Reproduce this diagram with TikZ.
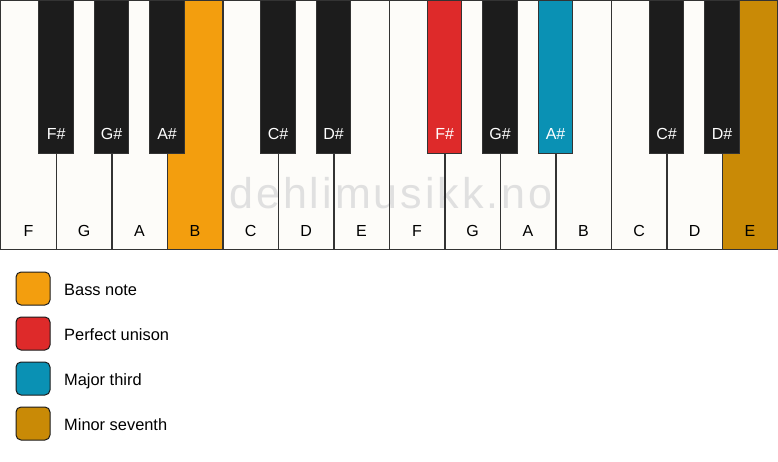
\documentclass[tikz,border=0pt]{standalone}
\usepackage{fontspec}
\setmainfont{Liberation Sans}
\definecolor{keywhite}{HTML}{FDFCF9}
\definecolor{keyblack}{HTML}{1C1C1C}
\definecolor{keyline}{HTML}{333333}
\definecolor{bassorange}{HTML}{F39E0E}
\definecolor{unisonred}{HTML}{DE2A2A}
\definecolor{thirdblue}{HTML}{0A91B4}
\definecolor{seventhgold}{HTML}{C98A06}
\definecolor{wmgray}{HTML}{E0E0E0}
\begin{document}
\begin{tikzpicture}[x=1pt,y=-1pt,
  whitekey/.style={rectangle,inner sep=0pt,anchor=north west,minimum width=55.5pt,minimum height=249pt,fill=keywhite},
  keyborder/.style={draw=keyline,line width=1.2pt},
  blackkey/.style={rectangle,inner sep=0pt,anchor=north,minimum width=34.5pt,minimum height=153pt,draw=keyline,line width=0.8pt,fill=keyblack},
  wlabel/.style={anchor=base,inner sep=0pt,font=\fontsize{16}{18}\selectfont,text=black},
  blabel/.style={anchor=base,inner sep=0pt,font=\fontsize{16}{18}\selectfont,text=white},
  legbox/.style={rectangle,rounded corners=5pt,inner sep=0pt,minimum width=34pt,minimum height=33pt,draw=keyblack,line width=1pt},
  legtext/.style={anchor=base west,inner sep=0pt,font=\fontsize{16.4}{19}\selectfont}]
\useasboundingbox (0,0) rectangle (778,461);
\fill[white] (0,0) rectangle (778,461);
% white keys
\foreach \i/\n/\c in {0/F/keywhite,1/G/keywhite,2/A/keywhite,3/B/bassorange,4/C/keywhite,5/D/keywhite,6/E/keywhite,7/F/keywhite,8/G/keywhite,9/A/keywhite,10/B/keywhite,11/C/keywhite,12/D/keywhite,13/E/seventhgold}{
  \node[whitekey,fill=\c] (w\i) at ({0.6+\i*55.5}, 0) {};
}
% watermark
\node[anchor=base,inner sep=0pt,text=wmgray,font=\fontsize{43}{50}\selectfont\addfontfeature{LetterSpace=7}] (wm) at (391,208) {dehlimusikk.no};
% key borders and labels
\foreach \i/\n in {0/F,1/G,2/A,3/B,4/C,5/D,6/E,7/F,8/G,9/A,10/B,11/C,12/D,13/E}{
  \draw[keyborder] (w\i.north west) rectangle (w\i.south east);
  \node[wlabel] (wl\i) at (w\i.center |- 0,236) {\n};
}
% black keys
\foreach \i/\n/\c in {1/F\#/keyblack,2/G\#/keyblack,3/A\#/keyblack,5/C\#/keyblack,6/D\#/keyblack,8/F\#/unisonred,9/G\#/keyblack,10/A\#/thirdblue,12/C\#/keyblack,13/D\#/keyblack}{
  \node[blackkey,fill=\c] (b\i) at (w\i.north west) {};
  \node[blabel] (bl\i) at (b\i.center |- 0,139) {\n};
}
% legend
\node[legbox,fill=bassorange] (lg1) at (33,288.5) {};
\node[legtext] (lt1) at (64,295.3) {Bass note};
\node[legbox,fill=unisonred] (lg2) at (33,333.5) {};
\node[legtext] (lt2) at (64,340.3) {Perfect unison};
\node[legbox,fill=thirdblue] (lg3) at (33,378.5) {};
\node[legtext] (lt3) at (64,385.3) {Major third};
\node[legbox,fill=seventhgold] (lg4) at (33,423.5) {};
\node[legtext] (lt4) at (64,430.3) {Minor seventh};
\end{tikzpicture}
\end{document}
